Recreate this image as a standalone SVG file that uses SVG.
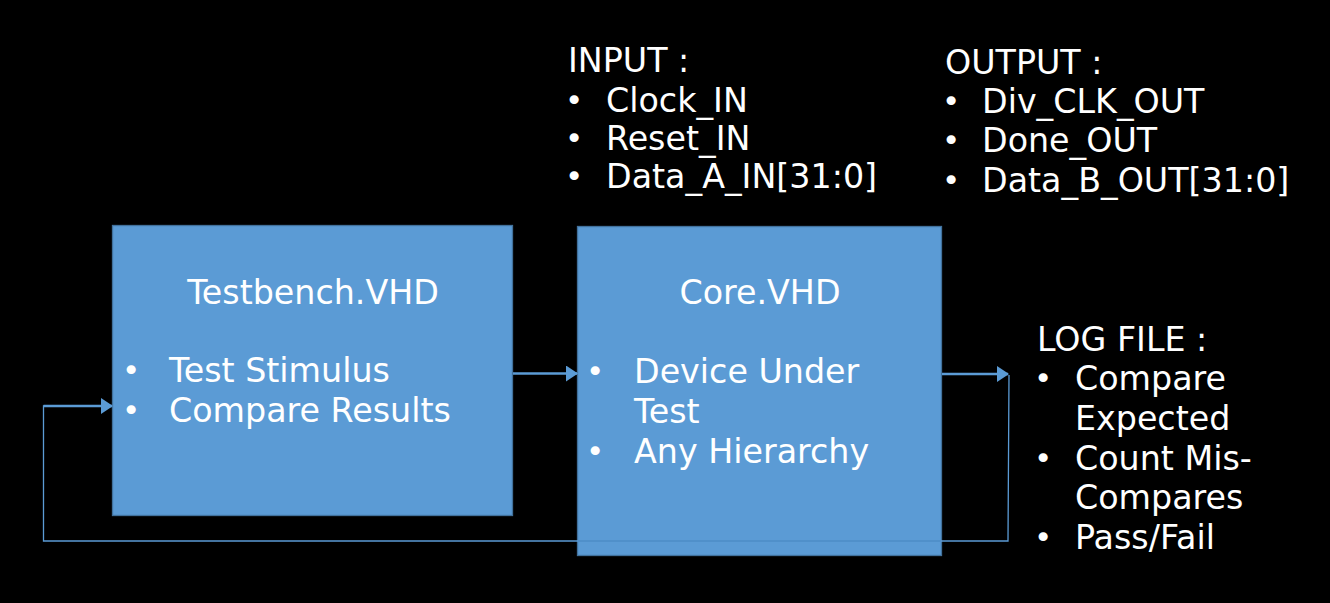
<svg xmlns="http://www.w3.org/2000/svg" width="1330" height="603" viewBox="0 0 1330 603">
<style>
.box{fill:#5B9BD5;stroke:#41719C;stroke-width:1.3}
.t{font-family:"DejaVu Sans",sans-serif;font-size:33.3px;fill:#FFFFFF}
.b{font-family:"DejaVu Sans",sans-serif;font-size:31px;fill:#FFFFFF}
.mid{text-anchor:middle}
.arr{stroke:#5B9BD5;stroke-width:2.5;fill:none}
.fb{stroke:#5B9BD5;stroke-width:1.3;fill:none}
.fbo{stroke:#4E8CC6;stroke-width:1.3;fill:none}
</style>
<defs>
<marker id="ah" markerUnits="userSpaceOnUse" markerWidth="12" markerHeight="16" refX="11" refY="8" orient="auto">
<path d="M0,0 L12,8 L0,16 Z" fill="#5B9BD5"/>
</marker>
</defs>
<rect width="1330" height="603" fill="#000000"/>
<g id="input-label">
<text class="t" x="568" y="72">INPUT :</text>
<text class="b" x="565" y="111">•</text><text class="t" x="606" y="112">Clock_IN</text>
<text class="b" x="565" y="149">•</text><text class="t" x="606" y="150">Reset_IN</text>
<text class="b" x="565" y="187">•</text><text class="t" x="606" y="188">Data_A_IN[31:0]</text>
</g>
<g id="output-label">
<text class="t" x="945" y="74">OUTPUT :</text>
<text class="b" x="942" y="112">•</text><text class="t" x="982" y="113">Div_CLK_OUT</text>
<text class="b" x="942" y="151">•</text><text class="t" x="982" y="152">Done_OUT</text>
<text class="b" x="942" y="191">•</text><text class="t" x="982" y="192">Data_B_OUT[31:0]</text>
</g>
<g id="testbench">
<rect class="box" x="112.5" y="225.5" width="400" height="290"/>
<text class="t mid" x="313" y="304">Testbench.VHD</text>
<text class="b" x="122" y="381">•</text><text class="t" x="169" y="382">Test Stimulus</text>
<text class="b" x="122" y="421">•</text><text class="t" x="169" y="422">Compare Results</text>
</g>
<g id="core">
<rect class="box" x="577.5" y="226.5" width="364" height="329"/>
<text class="t mid" x="760" y="304">Core.VHD</text>
<text class="b" x="586" y="382">•</text><text class="t" x="634" y="383">Device Under</text>
<text class="t" x="634" y="423">Test</text>
<text class="b" x="586" y="462">•</text><text class="t" x="634" y="463">Any Hierarchy</text>
</g>
<g id="log-file">
<text class="t" x="1037" y="351">LOG FILE :</text>
<text class="b" x="1034" y="389">•</text><text class="t" x="1075" y="390">Compare</text>
<text class="t" x="1075" y="430">Expected</text>
<text class="b" x="1034" y="469">•</text><text class="t" x="1075" y="470">Count Mis-</text>
<text class="t" x="1075" y="509">Compares</text>
<text class="b" x="1034" y="548">•</text><text class="t" x="1075" y="549">Pass/Fail</text>
</g>
<g id="connectors">
<line class="arr" x1="513" y1="373.5" x2="577" y2="373.5" marker-end="url(#ah)"/>
<line class="arr" x1="942" y1="374" x2="1008" y2="374" marker-end="url(#ah)"/>
<polyline class="fb" points="1009,375 1008,541 43.5,541 43.5,406 100,406"/>
<line class="fbo" x1="578" y1="541" x2="941" y2="541"/>
<line class="arr" x1="43.5" y1="406" x2="112" y2="406" marker-end="url(#ah)"/>
</g>
</svg>
